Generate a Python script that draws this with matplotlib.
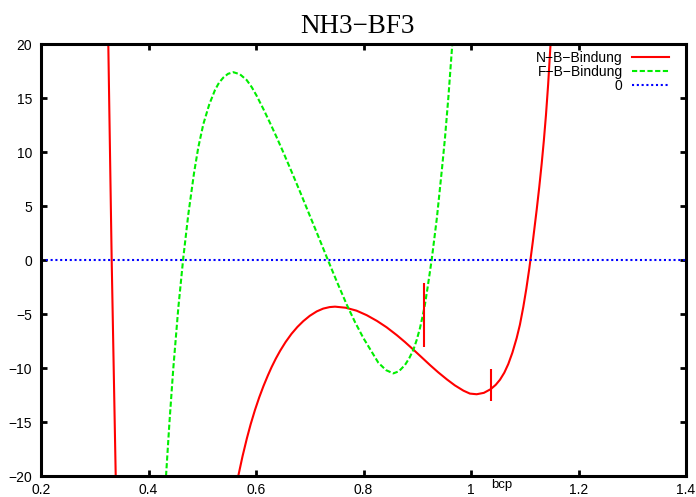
import numpy as np
import matplotlib
matplotlib.use('Agg')
import matplotlib.pyplot as plt

# N-B-Bindung (red), nan = curve leaves the plot below -20
nbX = [0.3252, 0.3315, 0.339, np.nan,
       0.567, 0.575, 0.583, 0.59, 0.598, 0.606, 0.614, 0.622, 0.629, 0.637,
       0.645, 0.655, 0.666, 0.677, 0.688, 0.70, 0.713, 0.725, 0.737, 0.747,
       0.767, 0.787, 0.806, 0.825, 0.843, 0.862, 0.877, 0.893, 0.908, 0.924,
       0.939, 0.955, 0.970, 0.986, 0.998, 1.0106, 1.024, 1.0366, 1.046, 1.054,
       1.062, 1.0694, 1.077, 1.085, 1.091, 1.0973, 1.103, 1.1085, 1.115, 1.1222,
       1.127, 1.1315, 1.1355, 1.1395, 1.1435, 1.148]
nbY = [20, 0, -20, np.nan,
       -20, -18.16, -16.52, -15.22, -13.9, -12.72, -11.66, -10.7, -9.92, -9.12,
       -8.4, -7.6, -6.84, -6.2, -5.66, -5.17, -4.76, -4.5, -4.36, -4.32,
       -4.42, -4.69, -5.11, -5.64, -6.23, -6.96, -7.59, -8.31, -9.0, -9.74,
       -10.4, -11.05, -11.61, -12.1, -12.37, -12.43, -12.3, -11.96, -11.56, -11.08,
       -10.43, -9.63, -8.58, -7.22, -5.99, -4.35, -2.64, -0.77, 1.7, 4.65,
       6.76, 8.92, 11.04, 13.44, 16.24, 20]

# F-B-Bindung (green)
fbX = [0.4326, 0.439, 0.446, 0.4555, 0.4648, 0.474, 0.4847, 0.4926, 0.502, 0.513,
       0.5237, 0.531, 0.5392, 0.548, 0.5578, 0.570, 0.5827, 0.592, 0.6013, 0.614,
       0.626, 0.638, 0.6508, 0.6633, 0.682, 0.70, 0.716, 0.733, 0.751, 0.7688,
       0.784, 0.7998, 0.8276, 0.842, 0.8555, 0.866, 0.8772, 0.885, 0.8927, 0.899,
       0.9051, 0.910, 0.9144, 0.9194, 0.9268, 0.9365, 0.946, 0.9516, 0.9578, 0.9652]
fbY = [-20, -15.01, -10.11, -4.41, 0.24, 4.2, 8.05, 10.42, 12.58, 14.4,
       15.74, 16.4, 16.89, 17.24, 17.39, 17.2, 16.66, 16.01, 15.2, 13.95,
       12.7, 11.41, 9.97, 8.52, 6.31, 4.12, 2.18, 0.09, -2.07, -4.13,
       -5.73, -7.23, -9.51, -10.2, -10.5, -10.3, -9.72, -9.1, -8.33, -7.4,
       -6.3, -5.2, -4.1, -2.5, 0, 3.88, 8.45, 11.3, 15.0, 20]

zeroX = [0.2, 1.4]
zeroY = [0, 0]

# bcp markers
bcpX = [0.9132, 1.0366]
bcpLow = [-8.03, -13.05]
bcpHigh = [-2.1, -10.1]

xTicks = [0.2, 0.4, 0.6, 0.8, 1.0, 1.2, 1.4]
xTickLabels = ['0.2', '0.4', '0.6', '0.8', '1', '1.2', '1.4']
yTicks = [-20, -15, -10, -5, 0, 5, 10, 15, 20]
yTickLabels = ['\u221220', '\u221215', '\u221210', '\u22125', '0', '5', '10', '15', '20']

plt.rcParams['font.family'] = ['Liberation Sans', 'DejaVu Sans']

fig = plt.figure(figsize=(6.96, 4.97), dpi=100)
ax = fig.add_axes([41 / 696, 1 - 476 / 497, 645 / 696, 432 / 497])

ax.plot(nbX, nbY, color='#ff0000', lw=1.5, label='N\u2212B\u2212Bindung')
ax.plot(fbX, fbY, color='#00ee00', lw=1.5, dashes=(2.5, 1.2), label='F\u2212B\u2212Bindung')
ax.plot(zeroX, zeroY, color='#0000ff', lw=1.5, dashes=(1, 1.3), label='0')
ax.vlines(bcpX, bcpLow, bcpHigh, color='#ff0000', lw=1.5)

ax.set_xlim(0.2, 1.4)
ax.set_ylim(-20, 20)
ax.set_xticks(xTicks)
ax.set_xticklabels(xTickLabels)
ax.set_yticks(yTicks)
ax.set_yticklabels(yTickLabels)
ax.tick_params(direction='in', length=4.5, width=2, labelsize=10,
               top=True, right=True)
ax.tick_params(axis='x', pad=5)
ax.tick_params(axis='y', pad=6.5)
for s in ax.spines.values():
    s.set_linewidth(2.2)

ax.text(0.714, -0.021, 'bcp', transform=ax.transAxes, ha='center', va='center', fontsize=9.5)

leg = ax.legend(loc='upper right', bbox_to_anchor=(0.974, 0.984), frameon=False,
                markerfirst=False, fontsize=10, handlelength=2.7, handletextpad=0.65,
                labelspacing=0.0, borderpad=0, borderaxespad=0)

fig.text(357 / 696, 1 - 33 / 497, 'NH3\u2212BF3', ha='center', va='baseline',
         fontsize=19.5, family=['Liberation Serif', 'DejaVu Serif'])

fig.savefig('out.png', dpi=100)
